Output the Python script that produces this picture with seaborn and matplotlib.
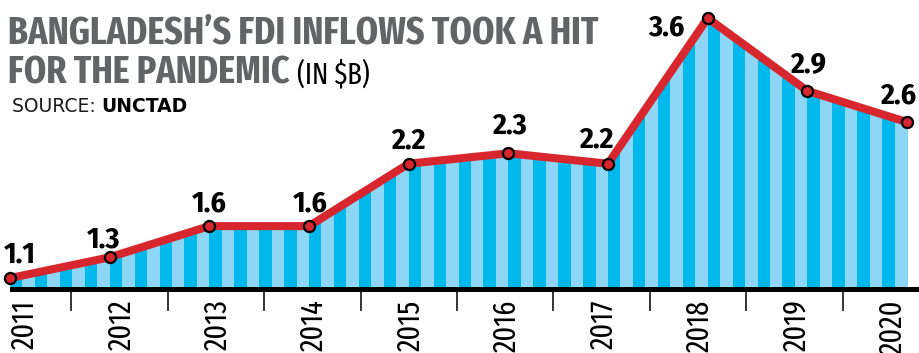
import numpy as np
import pandas as pd
import matplotlib.pyplot as plt
import seaborn as sns

years = ['2011', '2012', '2013', '2014', '2015', '2016', '2017', '2018', '2019', '2020']
fdi = [1.1, 1.3, 1.6, 1.6, 2.2, 2.3, 2.2, 3.6, 2.9, 2.6]
value_labels = ['1.1', '1.3', '1.6', '1.6', '2.2', '2.3', '2.2', '3.6', '2.9', '2.6']

# label nudges (pixels), bottom-centre of each number relative to its point
label_dx = [10, -6, 0, 1, 0, 1, -12, -41, 1, -9]
label_dy = [16, 10, 15, 15, 15, 20, 16, -17, 19, 19]

df = pd.DataFrame({'year': years, 'fdi': fdi})
df['pos'] = np.arange(len(df))

RED = '#d8262e'
DARK = '#00b8ec'
LIGHT = '#8ed6f6'
GREY = '#636466'

sns.set_style('white')
plt.rcParams['font.family'] = ['Fira Sans Condensed', 'Asap Condensed',
                               'Archivo Narrow', 'DejaVu Sans']
NARROW = ['Fira Sans Extra Condensed', 'Fira Sans Condensed', 'DejaVu Sans']

W, H = 920, 353
fig = plt.figure(figsize=(W / 100, H / 100), dpi=100)
ax = fig.add_axes([0, (H - 288.5) / H, 1, 288.5 / H])

px_x = 99.67   # pixels per year
px_y = 104.0   # pixels per $1B
ax.set_xlim(-10 / px_x, (W - 10) / px_x)
ax.set_ylim(1.0, 1.0 + 288.5 / px_y)

# striped area under the line
poly = ax.fill_between(df['pos'], df['fdi'], 1.0, color=DARK, lw=0, zorder=1)
clip = poly.get_paths()[0]
stripes = ax.bar(np.arange(0, 9, 0.25) + 0.125, 3, width=0.125, bottom=1.0,
                 align='edge', color=LIGHT, lw=0, zorder=1.5)
for b in stripes:
    b.set_clip_path(clip, ax.transData)

sns.lineplot(data=df, x='pos', y='fdi', ax=ax, color=RED, linewidth=5.8,
             marker='o', markersize=8, markerfacecolor=RED,
             markeredgecolor='black', markeredgewidth=1.6, zorder=3,
             clip_on=False)

for i, lab in enumerate(value_labels):
    ax.annotate(lab, (df['pos'][i], df['fdi'][i]),
                xytext=(label_dx[i], label_dy[i]), textcoords='offset pixels',
                ha='center', va='baseline', fontsize=21.5, fontweight='bold',
                color='black', zorder=4)

for s in ['top', 'left', 'right']:
    ax.spines[s].set_visible(False)
ax.spines['bottom'].set_linewidth(3.6)
ax.spines['bottom'].set_color('black')
ax.spines['bottom'].set_bounds(2 / px_x, (W - 10) / px_x)
ax.set_yticks([])
ax.set_xticks([])
ax.set_xlabel('')
ax.set_ylabel('')

# year labels and separators sit on their own evenly spaced scale
ax2 = ax.twiny()
ax2.set_xlim(-25 / 96.44, (W - 25) / 96.44)
ax2.xaxis.set_ticks_position('bottom')
ax2.set_xticks(np.arange(len(years)))
ax2.set_xticklabels(years, rotation=90, fontsize=22, color='black',
                    family=NARROW)
ax2.set_xticks(np.arange(len(years) - 1) + 0.48, minor=True)
ax2.tick_params(axis='x', which='major', length=0, pad=8)
ax2.tick_params(axis='x', which='minor', length=16, width=1.1, color='black',
                direction='out')
for s in ax2.spines.values():
    s.set_visible(False)
ax2.set_yticks([])

t1 = fig.text(8 / W, 1 - 43 / H, 'BANGLADESH\u2019S FDI INFLOWS TOOK A HIT',
              fontsize=28, fontweight='bold', color=GREY, va='baseline',
              family=NARROW)
t2 = fig.text(8 / W, 1 - 84 / H, 'FOR THE PANDEMIC',
              fontsize=28, fontweight='bold', color=GREY, va='baseline',
              family=NARROW)
s1 = fig.text(12 / W, 1 - 112 / H, 'SOURCE: ', fontsize=13.5, color='#1a1a1a',
              va='baseline', family='DejaVu Sans')

fig.canvas.draw()
r = fig.canvas.get_renderer()
b2 = t2.get_window_extent(r)
fig.text((b2.x1 + 7) / W, 1 - 84 / H, '(IN $B)', fontsize=21, color='black',
         va='baseline', family=NARROW)
b3 = s1.get_window_extent(r)
fig.text(b3.x1 / W, 1 - 112 / H, 'UNCTAD', fontsize=13.5, fontweight='bold',
         color='black', va='baseline', family='DejaVu Sans')

fig.savefig('out.png', dpi=100)
